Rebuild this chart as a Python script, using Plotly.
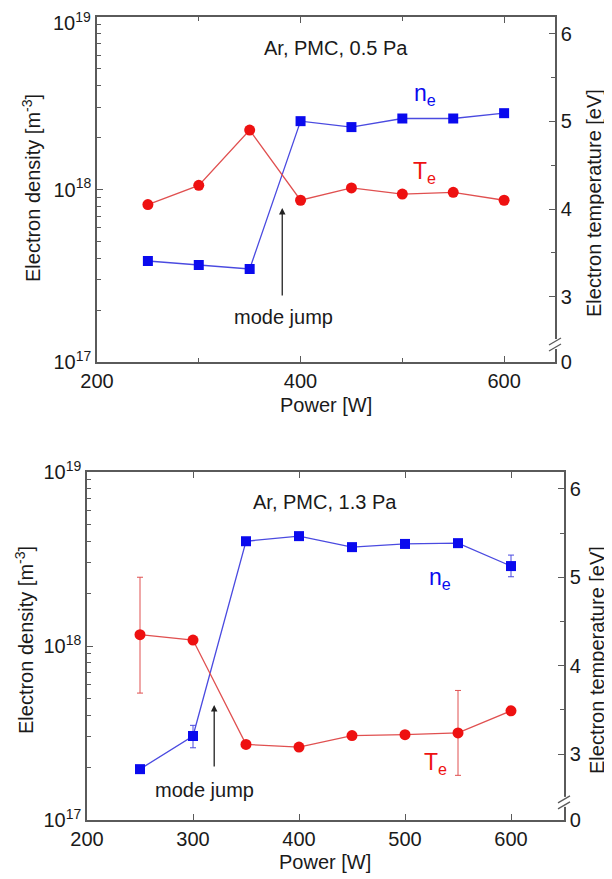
import plotly.graph_objects as go

# ---------------- data ----------------
power = [250, 300, 350, 400, 450, 500, 550, 600]

# Ar, PMC, 0.5 Pa
ne_05 = [3.85e17, 3.65e17, 3.46e17, 2.49e18, 2.30e18, 2.58e18, 2.58e18, 2.77e18]
te_05 = [4.05, 4.27, 4.90, 4.10, 4.24, 4.17, 4.19, 4.10]

# Ar, PMC, 1.3 Pa
ne_13 = [1.96e17, 3.04e17, 4.0e18, 4.28e18, 3.7e18, 3.86e18, 3.9e18, 2.88e18]
ne_13_err_up = [0, 0.46e17, 0, 0, 0, 0, 0, 0.45e18]
ne_13_err_dn = [0, 0.44e17, 0, 0, 0, 0, 0, 0.38e18]
te_13 = [4.35, 4.29, 3.11, 3.08, 3.21, 3.22, 3.24, 3.49]
te_13_err_up = [0.65, 0, 0, 0, 0, 0, 0.48, 0]
te_13_err_dn = [0.66, 0, 0, 0, 0, 0, 0.48, 0]

x_ticks_top = [200, 400, 600]
x_minor_top = [300, 500]
x_ticks_bot = [200, 300, 400, 500, 600]
ne_ticks = [1e17, 1e18, 1e19]
ne_ticktext = ["10<sup>17</sup>", "10<sup>18</sup>", "10<sup>19</sup>"]
ne_minor = [m * 10 ** e for e in (17, 18) for m in range(2, 10)]
te_range = [2.255, 6.19]
te_ticks = [2.26, 3, 4, 5, 6]
te_ticktext = ["0", "3", "4", "5", "6"]
te_minor = [3.5, 4.5, 5.5]
te_break = 2.46

FONT = "Liberation Sans, Arial, sans-serif"
AX = "#5a5a5a"
TXT = "#1a1a1a"
BLUE = "#0a0aee"
BLUE_L = "#4a4ae0"
RED = "#ee1111"
RED_L = "#e05050"

fig = go.Figure()

def add_panel(ne, te, xa, ya, ya2, ne_up=None, ne_dn=None, te_up=None, te_dn=None):
    ne_err = dict(type="data", array=ne_up, arrayminus=ne_dn, color=BLUE_L,
                  thickness=1, width=3) if ne_up else dict(visible=False)
    te_err = dict(type="data", array=te_up, arrayminus=te_dn, color=RED_L,
                  thickness=1, width=3) if te_up else dict(visible=False)
    fig.add_trace(go.Scatter(x=power, y=ne, xaxis=xa, yaxis=ya, mode="lines+markers",
                             line=dict(color=BLUE_L, width=1.3),
                             marker=dict(symbol="square", size=10, color=BLUE),
                             error_y=ne_err, showlegend=False, name="n_e"))
    fig.add_trace(go.Scatter(x=power, y=te, xaxis=xa, yaxis=ya2, mode="lines+markers",
                             line=dict(color=RED_L, width=1.3),
                             marker=dict(symbol="circle", size=11, color=RED),
                             error_y=te_err, showlegend=False, name="T_e"))

add_panel(ne_05, te_05, "x", "y", "y2")
add_panel(ne_13, te_13, "x2", "y3", "y4", ne_13_err_up, ne_13_err_dn, te_13_err_up, te_13_err_dn)

# the page body has an 8px margin: figure sized to fill the window exactly
OFF = 8
W, H = 612 - OFF, 879 - OFF

def PX(x):
    return (x - OFF) / W

def P(y):
    return 1 - (y - OFF) / H

top_dom_x = [PX(97), PX(555)]
top_dom_y = [P(362), P(17)]
bot_dom_x = [PX(87), PX(564)]
bot_dom_y = [P(820), P(472)]

tickfont = dict(family=FONT, size=20, color=TXT)
common = dict(showline=True, linecolor=AX, linewidth=1.5, ticks="inside", tickcolor=AX,
              tickwidth=1.2, showgrid=False, zeroline=False, tickfont=tickfont,
              automargin=False, ticklabeloverflow="allow")

def xaxis(dom, anchor, tickvals, minor_vals):
    d = dict(common, domain=dom, anchor=anchor, range=[200, 650], tickvals=tickvals,
             ticklen=6, mirror="ticks")
    if minor_vals:
        d["minor"] = dict(tickvals=minor_vals, ticklen=4, ticks="inside", tickcolor=AX, tickwidth=1.2)
    return d

def ylog(dom, anchor, ticktext):
    return dict(common, domain=dom, anchor=anchor, type="log", range=[17, 19],
                tickvals=ne_ticks, ticktext=ticktext, ticklen=6,
                minor=dict(tickvals=ne_minor, ticklen=4, ticks="inside", tickcolor=AX, tickwidth=1.2))

def yte(overlay, anchor):
    return dict(common, overlaying=overlay, anchor=anchor, side="right", range=te_range,
                tickvals=te_ticks, ticktext=te_ticktext, ticklen=6,
                minor=dict(tickvals=te_minor, ticklen=4, ticks="inside", tickcolor=AX, tickwidth=1.2))

# top label of the upper panel sits at the very edge of the page: drawn as a text below
fig.update_layout(
    width=W, height=H,
    margin=dict(l=0, r=0, t=0, b=0, autoexpand=False),
    paper_bgcolor="white", plot_bgcolor="white",
    font=dict(family=FONT, size=20, color=TXT),
    showlegend=False,
    xaxis=xaxis(top_dom_x, "y", x_ticks_top, x_minor_top),
    yaxis=ylog(top_dom_y, "x", ne_ticktext[:2] + [""]),
    yaxis2=yte("y", "x"),
    xaxis2=xaxis(bot_dom_x, "y3", x_ticks_bot, None),
    yaxis3=ylog(bot_dom_y, "x2", ne_ticktext),
    yaxis4=yte("y3", "x2"),
)

ann = []
def txt(text, x, y, size=20, color=TXT, xanchor="center", yanchor="middle", **kw):
    ann.append(dict(text=text, x=PX(x), y=P(y), xref="paper", yref="paper", showarrow=False,
                    xanchor=xanchor, yanchor=yanchor,
                    font=dict(family=FONT, size=size, color=color), **kw))

# top panel texts
txt(ne_ticktext[2], 92, OFF, xanchor="right", yanchor="top", borderpad=0)
txt("Ar, PMC, 0.5 Pa", 336, 48)
txt("n<sub>e</sub>", 412, 95, size=23, color=BLUE, xanchor="left")
txt("T<sub>e</sub>", 411, 172, size=23, color=RED, xanchor="left")
txt("mode jump", 283, 317)
txt("Power [W]", 326, 405)
txt("Electron density [m<sup>-3</sup>]", 32, 188, textangle=-90)
txt("Electron temperature [eV]", 594, 203, textangle=-90)

# bottom panel texts
txt("Ar, PMC, 1.3 Pa", 325, 502)
txt("n<sub>e</sub>", 427, 578, size=23, color=BLUE, xanchor="left")
txt("T<sub>e</sub>", 422, 763, size=23, color=RED, xanchor="left")
txt("mode jump", 204, 790)
txt("Power [W]", 325, 862)
txt("Electron density [m<sup>-3</sup>]", 24, 640, textangle=-90)
txt("Electron temperature [eV]", 597, 660, textangle=-90)

# arrows (head position, tail offset in pixels)
for xr, xv, yh, yt in [("x", 382, 208, 297), ("x2", 320, 705, 768)]:
    ann.append(dict(text="", x=xv, y=P(yh), xref=xr, yref="paper", showarrow=True,
                    ax=0, ay=yt - yh, axref="pixel", ayref="pixel",
                    arrowhead=2, arrowsize=1, arrowwidth=1.3, arrowcolor="#222",
                    standoff=0, startstandoff=0))
fig.update_layout(annotations=ann)

# axis break marks on right axes
shapes = []
for xr, yr in [("x", "y2"), ("x2", "y4")]:
    shapes.append(dict(type="rect", xref=f"{xr} domain", yref=yr, xanchor=1, yanchor=te_break,
                       xsizemode="pixel", ysizemode="pixel", x0=-3, x1=3, y0=-5, y1=5,
                       fillcolor="white", line=dict(width=0), layer="above"))
    for dy in (-3, 3):
        shapes.append(dict(type="line", xref=f"{xr} domain", yref=yr, xanchor=1, yanchor=te_break,
                           xsizemode="pixel", ysizemode="pixel", x0=-6, x1=6, y0=dy - 4, y1=dy + 3,
                           line=dict(color=AX, width=1.3), layer="above"))
fig.update_layout(shapes=shapes)

fig.write_html("out.html")
